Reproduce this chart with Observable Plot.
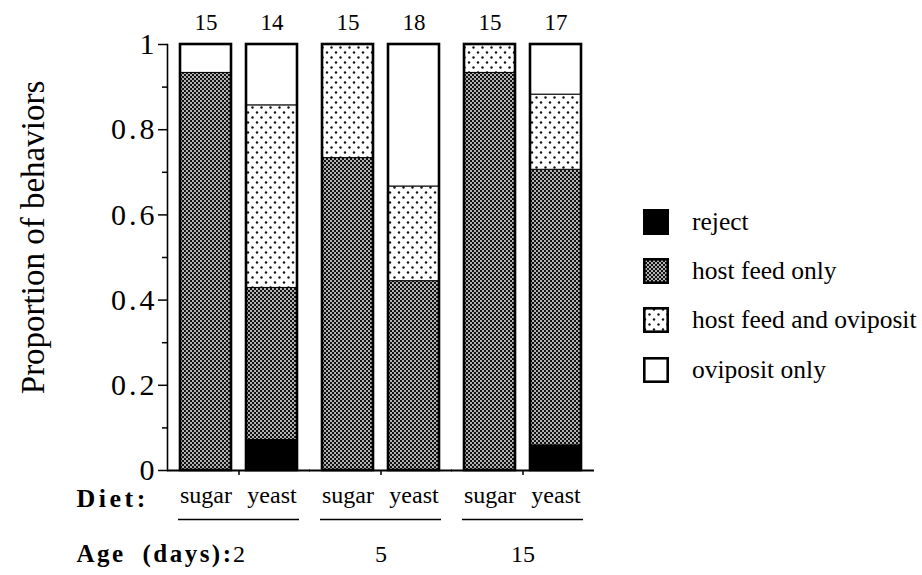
<!DOCTYPE html>
<html>
<head>
<meta charset="utf-8">
<script src="https://cdn.jsdelivr.net/npm/d3@7"></script>
<script src="https://cdn.jsdelivr.net/npm/@observablehq/plot@0.6"></script>
<style>
  html, body { margin: 0; padding: 0; background: #fff; }
  #wrap { position: relative; width: 922px; height: 575px; }
  #legend {
    position: absolute; left: 643px; top: 197px;
    font-family: "Liberation Serif", "Times New Roman", serif; font-size: 25.5px; color: #000;
  }
  #legend .row { display: flex; align-items: center; height: 49.4px; }
  #legend .row svg { margin-right: 23px; display: block; }
</style>
</head>
<body>
<div id="wrap"><div id="legend"></div></div>
<script>
// Groups: age (days) and diet for each bar, left to right
const ages = ["2", "5", "15"];
const diets = ["sugar", "yeast"];
const barAge = ["2", "2", "5", "5", "15", "15"];
const barDiet = ["sugar", "yeast", "sugar", "yeast", "sugar", "yeast"];
// Number of females observed per bar
const sampleSize = [15, 14, 15, 18, 15, 17];

// Behaviour categories, bottom of the stack first
const behaviors = ["reject", "host feed only", "host feed and oviposit", "oviposit only"];
const rejectCounts = [0, 1, 0, 0, 0, 1];
const hostFeedOnlyCounts = [14, 5, 11, 8, 14, 11];
const hostFeedOvipositCounts = [0, 6, 4, 4, 1, 3];
const ovipositOnlyCounts = [1, 2, 0, 6, 0, 2];

const yTicks = [0, 0.2, 0.4, 0.6, 0.8, 1];
const yMinorTicks = [0.1, 0.3, 0.5, 0.7, 0.9];

const countsByBehavior = [rejectCounts, hostFeedOnlyCounts, hostFeedOvipositCounts, ovipositOnlyCounts];
const fills = ["#000", "url(#hostFeedOnly)", "url(#hostFeedOviposit)", "#fff"];
const serif = "'Liberation Serif', 'Times New Roman', serif";

const rows = [];
barDiet.forEach((diet, i) => {
  behaviors.forEach((behavior, j) => {
    const count = countsByBehavior[j][i];
    rows.push({age: barAge[i], diet, behavior, count, p: count / sampleSize[i]});
  });
});
const bars = barDiet.map((diet, i) => ({age: barAge[i], diet, n: sampleSize[i]}));

const axisShift = -11; // the y axis sits a little left of the first group

const chart = Plot.plot({
  width: 922,
  height: 575,
  marginTop: 44,
  marginBottom: 105,
  marginLeft: 166,
  marginRight: 338,
  style: {fontFamily: serif, background: "#fff", color: "#000"},
  fx: {domain: ages, paddingInner: 0.151, paddingOuter: 0.042, align: 0.92, axis: null, label: null},
  x: {domain: diets, paddingInner: 0.22, paddingOuter: 0.02, axis: null, label: null},
  y: {domain: [0, 1], axis: null},
  color: {type: "ordinal", domain: behaviors, range: fills},
  marks: [
    // stacked behaviour segments
    Plot.barY(rows, Plot.stackY({
      x: "diet", fx: "age", y: "p", fill: "behavior",
      filter: (d) => d.count > 0,
      stroke: "#000", strokeWidth: 1
    })),
    // heavy outline around each whole bar
    Plot.barY(rows, Plot.groupX({y: "sum"}, {
      x: "diet", fx: "age", y: "p", fill: "none", stroke: "#000", strokeWidth: 2.6
    })),
    // y axis line and ticks
    Plot.frame({anchor: "left", facetAnchor: "left", dx: axisShift, strokeWidth: 1.6}),
    Plot.axisY(yTicks, {
      facetAnchor: "left", dx: axisShift, tickSize: 9, tickPadding: 1, strokeWidth: 1.5,
      tickFormat: (d) => String(d), fontSize: 30, label: null
    }),
    Plot.axisY(yMinorTicks, {
      facetAnchor: "left", dx: axisShift, tickSize: 5, strokeWidth: 1.5,
      tickFormat: () => "", label: null
    }),
    // baseline running continuously under all groups
    Plot.ruleY([0], {insetLeft: axisShift, insetRight: axisShift, strokeWidth: 2}),
    // diet labels under each bar, underlined per age group
    Plot.axisX({tickSize: 0, tickPadding: 15, fontSize: 24, label: null}),
    Plot.ruleY([0], {dy: 49, strokeWidth: 1.3}),
    // age group ticks on the baseline and age labels
    Plot.axisFx({anchor: "bottom", tickSize: 5, strokeWidth: 1.5, tickFormat: () => "", label: null}),
    Plot.axisFx({anchor: "bottom", tickSize: 0, tickPadding: 74, fontSize: 24, label: null}),
    // sample sizes above the bars
    Plot.text(bars, {
      x: "diet", fx: "age", text: "n", frameAnchor: "top", lineAnchor: "middle",
      dy: -22, fontSize: 23
    }),
    // row titles and y-axis title
    Plot.text(["Diet:"], {
      facet: "super", frameAnchor: "bottom-left", textAnchor: "start", lineAnchor: "middle",
      dx: -102, dy: 28, fontWeight: "bold", fontSize: 26
    }),
    Plot.text(["Age (days):"], {
      facet: "super", frameAnchor: "bottom-left", textAnchor: "start", lineAnchor: "middle",
      dx: -102, dy: 83, fontWeight: "bold", fontSize: 25
    }),
    Plot.text(["Proportion of behaviors"], {
      facet: "super", frameAnchor: "left", textAnchor: "middle", lineAnchor: "middle",
      rotate: -90, dx: -145, dy: -20, fontSize: 33
    })
  ]
});

// wider tracking on the bold row titles and the y tick labels
d3.select(chart).selectAll("text")
  .filter(function () { return this.textContent === "Diet:"; })
  .style("letter-spacing", "3.5px");
d3.select(chart).selectAll("text")
  .filter(function () { return this.textContent === "Age (days):"; })
  .style("letter-spacing", "2.5px")
  .style("word-spacing", "8px");
d3.select(chart).selectAll('g[aria-label="y-axis tick label"] text')
  .style("letter-spacing", "3px");

// fill patterns for the dotted categories
const defs = d3.select(chart).insert("defs", ":first-child");
const dense = defs.append("pattern").attr("id", "hostFeedOnly")
  .attr("patternUnits", "userSpaceOnUse").attr("width", 4).attr("height", 4);
dense.append("rect").attr("width", 4).attr("height", 4).attr("fill", "#111");
dense.append("circle").attr("cx", 1).attr("cy", 1).attr("r", 0.9).attr("fill", "#fff");
dense.append("circle").attr("cx", 3).attr("cy", 3).attr("r", 0.9).attr("fill", "#fff");
const sparse = defs.append("pattern").attr("id", "hostFeedOviposit")
  .attr("patternUnits", "userSpaceOnUse").attr("width", 9).attr("height", 10);
sparse.append("rect").attr("width", 9).attr("height", 10).attr("fill", "#fff");
sparse.append("circle").attr("cx", 2).attr("cy", 2.5).attr("r", 1.2).attr("fill", "#111");
sparse.append("circle").attr("cx", 6.5).attr("cy", 7.5).attr("r", 1.2).attr("fill", "#111");

const wrap = document.getElementById("wrap");
wrap.insertBefore(chart, wrap.firstChild);

// legend
const rowsSel = d3.select("#legend").selectAll("div.row")
  .data(behaviors).join("div").attr("class", "row");
const sw = rowsSel.append("svg").attr("width", 26).attr("height", 26);
sw.append("rect").attr("x", 1.3).attr("y", 1.3).attr("width", 23.4).attr("height", 23.4)
  .attr("fill", (d, i) => fills[i]).attr("stroke", "#000").attr("stroke-width", 2.6);
rowsSel.append("span").text((d) => d);
</script>
</body>
</html>
